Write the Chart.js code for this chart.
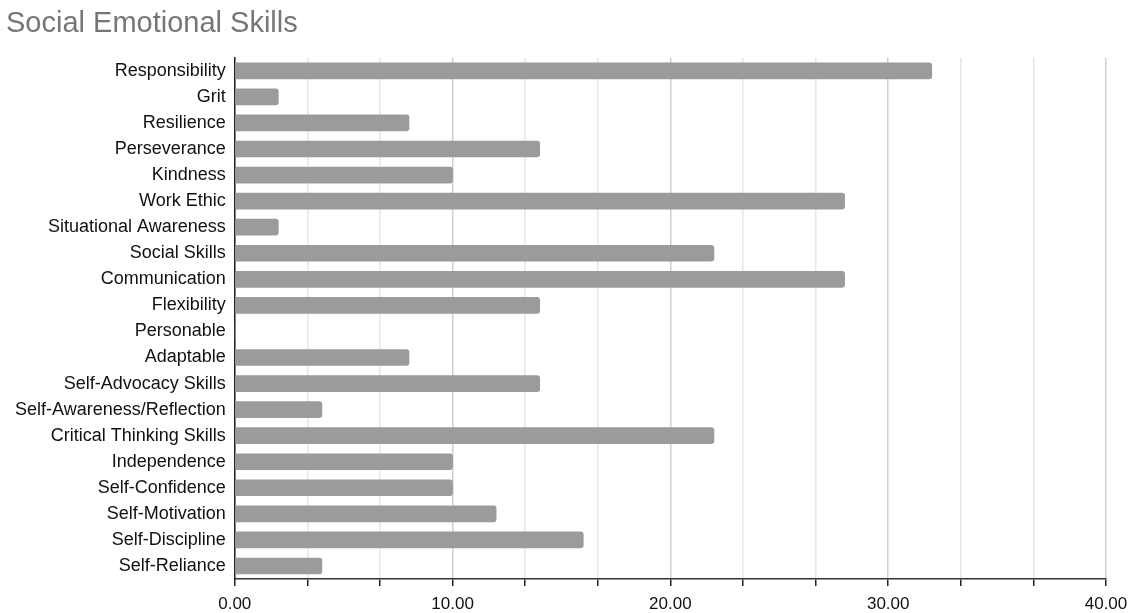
<!DOCTYPE html>
<html>
<head>
<meta charset="utf-8">
<script src="https://cdn.jsdelivr.net/npm/chart.js@4"></script>
<style>
  html, body { margin: 0; padding: 0; background: #fff; }
  #wrap { width: 1131px; height: 613px; }
</style>
</head>
<body>
<div id="wrap"><canvas id="skillsChart" width="1131" height="613"></canvas></div>
<script>
// ── Data ──
const categories = [
  'Responsibility', 'Grit', 'Resilience', 'Perseverance', 'Kindness', 'Work Ethic',
  'Situational Awareness', 'Social Skills', 'Communication', 'Flexibility', 'Personable',
  'Adaptable', 'Self-Advocacy Skills', 'Self-Awareness/Reflection', 'Critical Thinking Skills',
  'Independence', 'Self-Confidence', 'Self-Motivation', 'Self-Discipline', 'Self-Reliance'
];
const values = [32, 2, 8, 14, 10, 28, 2, 22, 28, 14, 0, 8, 14, 4, 22, 10, 10, 12, 16, 4];
const majorTicks = [0, 10, 20, 30, 40];
const minorPerMajor = 3;

const FONT = "'Liberation Sans', Arial, Helvetica, sans-serif";

const ctx = document.getElementById('skillsChart').getContext('2d');
new Chart(ctx, {
  type: 'bar',
  data: {
    labels: categories,
    datasets: [{
      data: values,
      backgroundColor: '#9b9b9b',
      borderRadius: 3,
      borderSkipped: 'start',
      barThickness: 16,
    }]
  },
  options: {
    indexAxis: 'y',
    responsive: false,
    animation: false,
    layout: { padding: { left: 6, right: 0, bottom: -10 } },
    plugins: {
      legend: { display: false },
      tooltip: { enabled: false },
      title: {
        display: true,
        text: 'Social Emotional Skills',
        align: 'start',
        color: '#767676',
        font: { family: FONT, size: 29, weight: 'normal' },
        padding: { top: 7, bottom: 16 }
      }
    },
    scales: {
      x: {
        min: majorTicks[0],
        max: majorTicks[majorTicks.length - 1],
        afterBuildTicks: scale => {
          const t = [];
          for (let i = 0; i < majorTicks.length - 1; i++) {
            const step = (majorTicks[i + 1] - majorTicks[i]) / minorPerMajor;
            for (let k = 0; k < minorPerMajor; k++) t.push({ value: majorTicks[i] + step * k });
          }
          t.push({ value: majorTicks[majorTicks.length - 1] });
          scale.ticks = t;
        },
        afterFit: scale => { scale.paddingRight = 25; },
        ticks: {
          autoSkip: false,
          maxRotation: 0,
          color: '#111',
          padding: 10,
          font: { family: FONT, size: 17, lineHeight: 1 },
          callback: (v, i) => (i % minorPerMajor === 0 ? Number(v).toFixed(2) : '')
        },
        grid: {
          color: c => (c.index % minorPerMajor === 0 ? '#cfcfcf' : '#e6e6e6'),
          lineWidth: 1.5,
          tickColor: '#222',
          tickLength: 7
        },
        border: { color: '#333', width: 1.5 }
      },
      y: {
        ticks: {
          color: '#111',
          padding: 9,
          autoSkip: false,
          font: { family: FONT, size: 18 }
        },
        grid: { display: false, drawTicks: false },
        border: { color: '#222', width: 1.5 }
      }
    }
  }
});
</script>
</body>
</html>
